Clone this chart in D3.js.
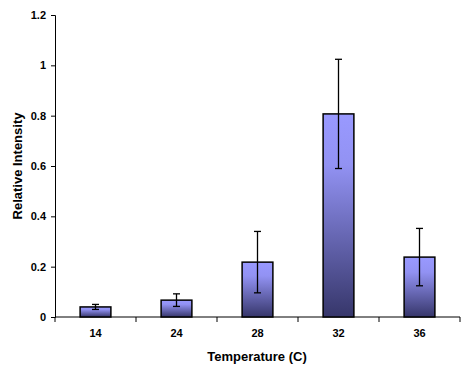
<!DOCTYPE html>
<html>
<head>
<meta charset="utf-8">
<script src="https://cdn.jsdelivr.net/npm/d3@7"></script>
<style>
  body { margin: 0; background: #fff; }
  svg text { font-family: "Liberation Sans", Arial, sans-serif; font-weight: bold; fill: #000; }
</style>
</head>
<body>
<script>
// chart data
const temps = ["14", "24", "28", "32", "36"];
const intensity = [0.040, 0.067, 0.218, 0.807, 0.238];
const errors = [0.010, 0.025, 0.122, 0.217, 0.114];
const yTicks = [0, 0.2, 0.4, 0.6, 0.8, 1, 1.2];

const width = 465, height = 368;
const margin = { top: 15, right: 5, bottom: 51, left: 55 };

const svg = d3.select("body").append("svg")
  .attr("width", width)
  .attr("height", height);

// bar gradient, light at top and dark at the base
const grad = svg.append("defs").append("linearGradient")
  .attr("id", "barGrad")
  .attr("x1", 0).attr("y1", 0).attr("x2", 0).attr("y2", 1);
grad.append("stop").attr("offset", "0%").attr("stop-color", "#9999ff");
grad.append("stop").attr("offset", "25%").attr("stop-color", "#9292f3");
grad.append("stop").attr("offset", "100%").attr("stop-color", "#36366a");

const xScale = d3.scaleBand()
  .domain(temps)
  .range([margin.left, width - margin.right])
  .paddingInner(0.62)
  .paddingOuter(0.31);

const yScale = d3.scaleLinear()
  .domain([0, 1.2])
  .range([height - margin.bottom, margin.top]);

// y axis
const yAxis = svg.append("g")
  .attr("transform", `translate(${margin.left},0)`)
  .call(d3.axisLeft(yScale).tickValues(yTicks).tickFormat(d => d3.format("")(d)).tickSize(4).tickPadding(5));
yAxis.select(".domain").attr("stroke", "#000");
yAxis.selectAll("text").style("font-size", "11px");

// x axis with ticks between categories
const x0 = margin.left, x1 = width - margin.right;
const step = (x1 - x0) / temps.length;
const xAxis = svg.append("g")
  .attr("transform", `translate(0,${height - margin.bottom})`);
xAxis.append("line")
  .attr("x1", x0).attr("x2", x1)
  .attr("stroke", "#000");
xAxis.selectAll(".sep")
  .data(d3.range(temps.length + 1))
  .join("line")
  .attr("x1", i => x0 + i * step).attr("x2", i => x0 + i * step)
  .attr("y1", 0).attr("y2", 5)
  .attr("stroke", "#000");
xAxis.selectAll(".lbl")
  .data(temps)
  .join("text")
  .attr("x", d => xScale(d) + xScale.bandwidth() / 2)
  .attr("y", 20)
  .attr("text-anchor", "middle")
  .style("font-size", "11px")
  .text(d => d);

// bars
const bw = xScale.bandwidth();
svg.selectAll(".bar")
  .data(temps)
  .join("rect")
  .attr("x", d => xScale(d))
  .attr("y", (d, i) => yScale(intensity[i]))
  .attr("width", bw)
  .attr("height", (d, i) => yScale(0) - yScale(intensity[i]))
  .attr("fill", "url(#barGrad)")
  .attr("stroke", "#000")
  .attr("stroke-width", 1.5);

// error bars
const errG = svg.append("g").attr("stroke", "#000").attr("stroke-width", 1.3);
temps.forEach((t, i) => {
  const cx = xScale(t) + bw / 2;
  const hi = yScale(intensity[i] + errors[i]);
  const lo = yScale(intensity[i] - errors[i]);
  errG.append("line").attr("x1", cx).attr("x2", cx).attr("y1", hi).attr("y2", lo);
  errG.append("line").attr("x1", cx - 3.5).attr("x2", cx + 3.5).attr("y1", hi).attr("y2", hi);
  errG.append("line").attr("x1", cx - 3.5).attr("x2", cx + 3.5).attr("y1", lo).attr("y2", lo);
});

// axis titles
svg.append("text")
  .attr("x", 257)
  .attr("y", 361)
  .attr("text-anchor", "middle")
  .style("font-size", "13px")
  .text("Temperature (C)");

svg.append("text")
  .attr("transform", "translate(22,166) rotate(-90)")
  .attr("text-anchor", "middle")
  .style("font-size", "13px")
  .text("Relative Intensity");
</script>
</body>
</html>
